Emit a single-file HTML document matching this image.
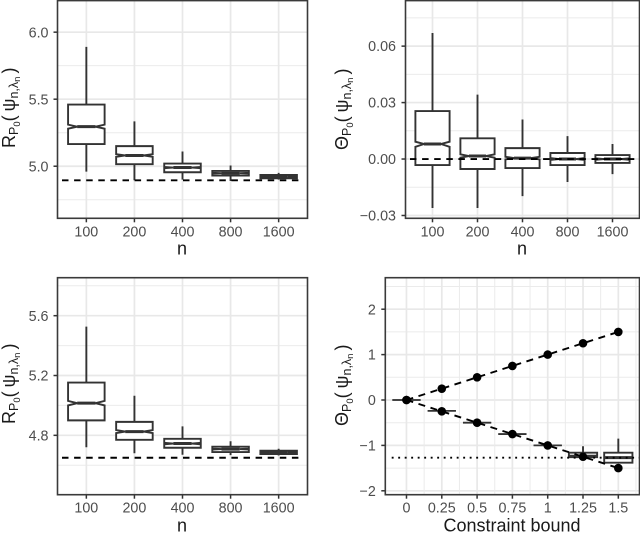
<!DOCTYPE html>
<html lang="en">
<head>
<meta charset="utf-8">
<title>Boxplots of risk and constraint estimates</title>
<style>
  html, body { margin: 0; padding: 0; background: #fff; width: 640px; height: 533px; overflow: hidden; }
  svg { display: block; font-family: "Liberation Sans", "DejaVu Sans", sans-serif; filter: blur(0.3px); }
  .title { font-size: 18px; fill: #1a1a1a; }
  .sub { font-size: 12.5px; }
  .subsub { font-size: 9.5px; }
</style>
</head>
<body>
<svg id="chart" width="640" height="533" viewBox="0 0 640 533" xmlns="http://www.w3.org/2000/svg">
  <g id="marks"></g>

  <text class="title" x="182" y="254.5" text-anchor="middle">n</text>
  <text class="title" x="522" y="254.5" text-anchor="middle">n</text>
  <text class="title" x="182" y="531.5" text-anchor="middle">n</text>
  <text class="title" x="512" y="531.5" text-anchor="middle">Constraint bound</text>

  <text class="title" transform="translate(15 148) rotate(-90)">R<tspan class="sub" dy="3">P</tspan><tspan class="subsub" dy="2">0</tspan><tspan dy="-5">(</tspan><tspan dx="4">ψ</tspan><tspan class="sub" dy="3">n,λ</tspan><tspan class="subsub" dy="2">n</tspan><tspan dy="-5" dx="3">)</tspan></text>
  <text class="title" transform="translate(348 150) rotate(-90)">Θ<tspan class="sub" dy="3">P</tspan><tspan class="subsub" dy="2">0</tspan><tspan dy="-5">(</tspan><tspan dx="4">ψ</tspan><tspan class="sub" dy="3">n,λ</tspan><tspan class="subsub" dy="2">n</tspan><tspan dy="-5" dx="3">)</tspan></text>
  <text class="title" transform="translate(15 424) rotate(-90)">R<tspan class="sub" dy="3">P</tspan><tspan class="subsub" dy="2">0</tspan><tspan dy="-5">(</tspan><tspan dx="4">ψ</tspan><tspan class="sub" dy="3">n,λ</tspan><tspan class="subsub" dy="2">n</tspan><tspan dy="-5" dx="3">)</tspan></text>
  <text class="title" transform="translate(348 426) rotate(-90)">Θ<tspan class="sub" dy="3">P</tspan><tspan class="subsub" dy="2">0</tspan><tspan dy="-5">(</tspan><tspan dx="4">ψ</tspan><tspan class="sub" dy="3">n,λ</tspan><tspan class="subsub" dy="2">n</tspan><tspan dy="-5" dx="3">)</tspan></text>
</svg>

<script>
// Shared category labels for the three "n" panels
const nCategories = ['100', '200', '400', '800', '1600'];

// Top-left panel: risk
const riskATicks = [5.0, 5.5, 6.0];
const riskATickLabels = ['5.0', '5.5', '6.0'];
const riskAMinorTicks = [4.75, 5.25, 5.75];
const riskAWhiskerLow = [4.96, 4.895, 4.90, 4.89, 4.90];
const riskAQ1 = [5.165, 5.015, 4.955, 4.93, 4.91];
const riskANotchLow = [5.28, 5.07, 4.985, 4.945, 4.92];
const riskAMedian = [5.295, 5.08, 4.99, 4.948, 4.922];
const riskANotchHigh = [5.31, 5.09, 4.995, 4.951, 4.924];
const riskAQ3 = [5.46, 5.15, 5.02, 4.965, 4.935];
const riskAWhiskerHigh = [5.89, 5.335, 5.11, 5.005, 4.95];
const riskAReference = 4.895;

// Top-right panel: constraint
const constraintATicks = [-0.03, 0, 0.03, 0.06];
const constraintATickLabels = ['\u22120.03', '0.00', '0.03', '0.06'];
const constraintAMinorTicks = [-0.015, 0.015, 0.045, 0.075];
const constraintAWhiskerLow = [-0.026, -0.026, -0.0197, -0.0122, -0.008];
const constraintAQ1 = [-0.0032, -0.0053, -0.0048, -0.0032, -0.0021];
const constraintANotchLow = [0.0065, 0.0007, -0.0002, -0.0005, -0.0004];
const constraintAMedian = [0.008, 0.0016, 0.0005, 0, 0];
const constraintANotchHigh = [0.0092, 0.0025, 0.0012, 0.0005, 0.0004];
const constraintAQ3 = [0.0255, 0.011, 0.0058, 0.0032, 0.0021];
const constraintAWhiskerHigh = [0.067, 0.0342, 0.021, 0.0122, 0.008];
const constraintAReference = 0;

// Bottom-left panel: risk
const riskBTicks = [4.8, 5.2, 5.6];
const riskBTickLabels = ['4.8', '5.2', '5.6'];
const riskBMinorTicks = [4.6, 5.0, 5.4, 5.8];
const riskBWhiskerLow = [4.72, 4.68, 4.67, 4.668, 4.665];
const riskBQ1 = [4.90, 4.77, 4.717, 4.688, 4.675];
const riskBNotchLow = [5.00, 4.815, 4.74, 4.705, 4.684];
const riskBMedian = [5.015, 4.825, 4.745, 4.708, 4.686];
const riskBNotchHigh = [5.03, 4.835, 4.75, 4.711, 4.688];
const riskBQ3 = [5.153, 4.89, 4.777, 4.724, 4.697];
const riskBWhiskerHigh = [5.527, 5.065, 4.86, 4.76, 4.71];
const riskBReference = 4.65;

// Bottom-right panel: constraint against bound
const boundValues = [0, 0.25, 0.5, 0.75, 1, 1.25, 1.5];
const boundTickLabels = ['0', '0.25', '0.5', '0.75', '1', '1.25', '1.5'];
const boundMinorX = [0.125, 0.375, 0.625, 0.875, 1.125, 1.375, 1.625];
const boundYTicks = [-2, -1, 0, 1, 2];
const boundYTickLabels = ['\u22122', '\u22121', '0', '1', '2'];
const boundYMinorTicks = [-1.5, -0.5, 0.5, 1.5, 2.5];
const upperLimit = [0, 0.25, 0.5, 0.75, 1, 1.25, 1.5];
const lowerLimit = [0, -0.25, -0.5, -0.75, -1, -1.25, -1.5];
const boundWhiskerLow = [0, -0.24, -0.5, -0.75, -1, -1.3, -1.4];
const boundQ1 = [0, -0.24, -0.5, -0.75, -1, -1.26, -1.38];
const boundMedian = [0, -0.24, -0.5, -0.75, -1, -1.24, -1.27];
const boundQ3 = [0, -0.24, -0.5, -0.75, -1, -1.16, -1.16];
const boundWhiskerHigh = [0, -0.24, -0.5, -0.75, -1, -1.02, -0.85];
const boundDotted = -1.27;

const INK = '#333333';
const NS = 'http://www.w3.org/2000/svg';
const root = document.getElementById('marks');

function make(tag, attrs, parent, text) {
  const el = document.createElementNS(NS, tag);
  for (const k in attrs) el.setAttribute(k, attrs[k]);
  if (text !== undefined) el.textContent = text;
  (parent || root).appendChild(el);
  return el;
}

function linear(d0, d1, r0, r1) {
  return v => r0 + (v - d0) / (d1 - d0) * (r1 - r0);
}

function drawFrame(g, f) {
  const border = make('rect', { x: f.left, y: f.top, width: f.right - f.left, height: f.bottom - f.top, fill: 'none', stroke: '#3a3a3a', 'stroke-width': 1.6 }, g);
  
  
}

function drawYAxis(g, f, y, ticks, labels, minor) {
  minor.forEach(v => {
    const line = make('line', { x1: f.left, x2: f.right, y1: y(v), y2: y(v), stroke: '#ebebeb', 'stroke-width': 1 }, g);
    
    
  });
  ticks.forEach((v, i) => {
    const line = make('line', { x1: f.left, x2: f.right, y1: y(v), y2: y(v), stroke: '#e8e8e8', 'stroke-width': 1.7 }, g);
    
    
    const tick = make('line', { x1: f.left - 4, x2: f.left, y1: y(v), y2: y(v), stroke: INK, 'stroke-width': 1.5 }, g);
    
    
    const label = make('text', { x: f.left - f.labelGap, y: y(v) + 5.1, 'text-anchor': 'end', 'font-size': 14.3, fill: '#4d4d4d' }, g, labels[i]);
    
    
  });
}

function drawXAxis(g, f, positions, labels, minorPositions) {
  (minorPositions || []).forEach(px => {
    const line = make('line', { x1: px, x2: px, y1: f.top, y2: f.bottom, stroke: '#ebebeb', 'stroke-width': 1 }, g);
    
    
  });
  positions.forEach((px, i) => {
    const line = make('line', { x1: px, x2: px, y1: f.top, y2: f.bottom, stroke: '#e8e8e8', 'stroke-width': 1.7 }, g);
    
    
    const tick = make('line', { x1: px, x2: px, y1: f.bottom, y2: f.bottom + 4, stroke: INK, 'stroke-width': 1.5 }, g);
    
    
    const label = make('text', { x: px, y: f.bottom + 18, 'text-anchor': 'middle', 'font-size': 14.3, fill: '#4d4d4d' }, g, labels[i]);
    
    
  });
}

function drawBox(g, cx, hw, y, d) {
  const flat = d.q3 === d.q1;
  const weight = flat ? 1.2 : 1.9;
  const whiskers = make('path', {
    d: 'M' + cx + ' ' + y(d.high) + 'V' + y(d.q3) + 'M' + cx + ' ' + y(d.q1) + 'V' + y(d.low),
    stroke: INK, 'stroke-width': 1.9, fill: 'none'
  }, g);
  
  
  const nh = d.notchHigh === undefined ? d.median : d.notchHigh;
  const nl = d.notchLow === undefined ? d.median : d.notchLow;
  const inset = d.notchHigh === undefined ? hw : hw / 2;
  const l = cx - hw, r = cx + hw;
  const outline = 'M' + l + ' ' + y(d.q3) + 'L' + l + ' ' + y(nh) + 'L' + (cx - inset) + ' ' + y(d.median) +
    'L' + l + ' ' + y(nl) + 'L' + l + ' ' + y(d.q1) + 'L' + r + ' ' + y(d.q1) + 'L' + r + ' ' + y(nl) +
    'L' + (cx + inset) + ' ' + y(d.median) + 'L' + r + ' ' + y(nh) + 'L' + r + ' ' + y(d.q3) + 'Z';
  const box = make('path', { d: outline, fill: '#fff', stroke: INK, 'stroke-width': weight, 'stroke-linejoin': 'miter' }, g);
  
  
  const median = make('line', { x1: cx - inset, x2: cx + inset, y1: y(d.median), y2: y(d.median), stroke: INK, 'stroke-width': flat ? 1.8 : 3 }, g);
  
  
}

function drawBoxPanel(name, f, dom, ticks, labels, minor, s, refValue, refX0, refX1) {
  const g = make('g', {});
  
  
  const y = linear(dom[0], dom[1], f.bottom, f.top);
  const step = (f.right - f.left) / (nCategories.length - 1 + 1.2);
  const x = i => f.left + (i + 0.6) * step;
  drawYAxis(g, f, y, ticks, labels, minor);
  drawXAxis(g, f, nCategories.map((c, i) => x(i)), nCategories);
  nCategories.forEach((c, i) => {
    drawBox(g, x(i), step * 0.38, y, {
      low: s.low[i], q1: s.q1[i], notchLow: s.nl[i], median: s.med[i],
      notchHigh: s.nh[i], q3: s.q3[i], high: s.high[i]
    });
  });
  const ref = make('line', {
    x1: refX0, x2: refX1, y1: y(refValue), y2: y(refValue),
    stroke: '#000', 'stroke-width': 1.9, 'stroke-dasharray': '6.5 5.6'
  }, g);
  
  
  drawFrame(g, f);
}

drawBoxPanel('panel-top-left',
  { left: 57.5, right: 307.5, top: 0.6, bottom: 218.3, labelGap: 9 },
  [4.6115, 6.2355], riskATicks, riskATickLabels, riskAMinorTicks,
  { low: riskAWhiskerLow, q1: riskAQ1, nl: riskANotchLow, med: riskAMedian, nh: riskANotchHigh, q3: riskAQ3, high: riskAWhiskerHigh },
  riskAReference, 62, 302);

drawBoxPanel('panel-top-right',
  { left: 405.5, right: 639.5, top: 0.6, bottom: 218.3, labelGap: 9.5 },
  [-0.0315, 0.0842], constraintATicks, constraintATickLabels, constraintAMinorTicks,
  { low: constraintAWhiskerLow, q1: constraintAQ1, nl: constraintANotchLow, med: constraintAMedian, nh: constraintANotchHigh, q3: constraintAQ3, high: constraintAWhiskerHigh },
  constraintAReference, 410, 637);

drawBoxPanel('panel-bottom-left',
  { left: 57.5, right: 307.5, top: 277.7, bottom: 494.7, labelGap: 9 },
  [4.403, 5.854], riskBTicks, riskBTickLabels, riskBMinorTicks,
  { low: riskBWhiskerLow, q1: riskBQ1, nl: riskBNotchLow, med: riskBMedian, nh: riskBNotchHigh, q3: riskBQ3, high: riskBWhiskerHigh },
  riskBReference, 62, 302);

(function drawBoundPanel() {
  const f = { left: 385.3, right: 639.5, top: 277.7, bottom: 494.7, labelGap: 9.5 };
  const g = make('g', {});
  
  
  const x = linear(-0.15, 1.65, f.left, f.right);
  const y = linear(-2.086, 2.694, f.bottom, f.top);
  drawYAxis(g, f, y, boundYTicks, boundYTickLabels, boundYMinorTicks);
  drawXAxis(g, f, boundValues.map(x), boundTickLabels, boundMinorX.map(x));
  boundValues.forEach((b, i) => {
    drawBox(g, x(b), 0.1 * (f.right - f.left) / 1.8, y, {
      low: boundWhiskerLow[i], q1: boundQ1[i], median: boundMedian[i], q3: boundQ3[i], high: boundWhiskerHigh[i]
    });
  });
  const dotted = make('line', {
    x1: 391.7, x2: 639, y1: y(boundDotted), y2: y(boundDotted),
    stroke: '#000', 'stroke-width': 1.9, 'stroke-dasharray': '1.9 4.6'
  }, g);
  
  
  const upperPts = boundValues.map((b, i) => x(b) + ',' + y(upperLimit[i])).join(' ');
  const lowerPts = boundValues.map((b, i) => x(b) + ',' + y(lowerLimit[i])).join(' ');
  const upperLine = make('polyline', { points: upperPts, fill: 'none', stroke: '#000', 'stroke-width': 1.9, 'stroke-dasharray': '7 5.6' }, g);
  
  
  const lowerLine = make('polyline', { points: lowerPts, fill: 'none', stroke: '#000', 'stroke-width': 1.9, 'stroke-dasharray': '7 5.6' }, g);
  
  
  boundValues.forEach((b, i) => {
    const up = make('circle', { cx: x(b), cy: y(upperLimit[i]), r: 4.3, fill: '#000' }, g);
    
    
    const low = make('circle', { cx: x(b), cy: y(lowerLimit[i]), r: 4.3, fill: '#000' }, g);
    
    
  });
  drawFrame(g, f);
})();
</script>
</body>
</html>
